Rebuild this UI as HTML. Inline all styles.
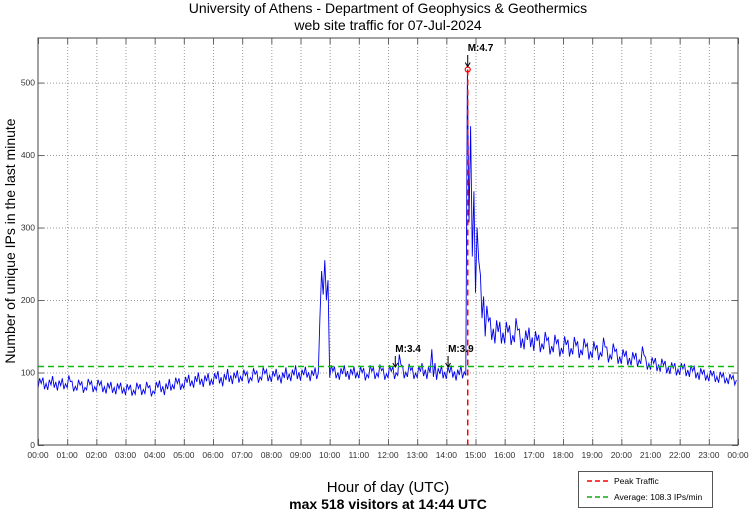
<!DOCTYPE html>
<html><head><meta charset="utf-8"><style>
body{margin:0;background:#fff;}
svg{display:block;font-family:"Liberation Sans",sans-serif;}
</style></head><body>
<svg id="chart" width="750" height="511" xmlns="http://www.w3.org/2000/svg">
<text x="388" y="13" font-size="14" text-anchor="middle">University of Athens - Department of Geophysics &amp; Geothermics</text>
<text x="388" y="30" font-size="14" text-anchor="middle">web site traffic for 07-Jul-2024</text>
<text transform="translate(15,241) rotate(-90)" font-size="14" text-anchor="middle">Number of unique IPs in the last minute</text>
<text x="388" y="492" font-size="15" text-anchor="middle">Hour of day (UTC)</text>
<text x="388" y="509" font-size="14" font-weight="bold" text-anchor="middle">max 518 visitors at 14:44 UTC</text>
<g id="grid"></g>
<g id="series"></g>
<g id="annot"></g>
<rect x="38" y="38" width="700" height="407" fill="none" stroke="#444" stroke-width="1"/>
<g>
<rect x="578.5" y="471.5" width="134" height="36" fill="#fff" stroke="#555"/>
<line x1="587" y1="481" x2="610" y2="481" stroke="#f00" stroke-width="1.5" stroke-dasharray="5,3"/>
<text x="614" y="484" font-size="8.5">Peak Traffic</text>
<line x1="587" y1="497" x2="610" y2="497" stroke="#1a1" stroke-width="1.5" stroke-dasharray="5,3"/>
<text x="614" y="500" font-size="8.5">Average: 108.3 IPs/min</text>
</g>
</svg>
<script>
// 10-minute bins (144): per-bin low and high unique IP counts
const binLows = [
78,77,76,79,75,77, 79,74,75,72,76,73, 75,73,71,72,70,71, 69,68,70,69,71,67, 71,73,69,75,77,76,
78,81,79,83,80,82, 83,85,81,87,84,86, 88,85,89,86,90,88, 87,89,85,90,88,91, 89,93,88,91,175,200,
93,92,90,94,90,92, 92,89,93,91,94,90, 93,91,96,92,94,91, 93,95,91,94,90,92, 91,93,89,92,96,260,
210,175,150,145,140,140, 140,138,142,134,132,135, 130,128,132,125,128,122, 126,122,125,120,124,118,
120,117,122,114,118,112, 112,110,110,108,112,104, 104,102,101,99,98,96, 97,95,94,92,90,89,
88,87,86,85,84,83
];
const binHighs = [
92,93,90,95,89,92, 96,88,90,87,91,88, 90,88,86,87,85,86, 84,83,86,84,87,82, 87,89,85,91,93,92,
94,97,95,100,96,99, 99,102,98,105,100,103, 104,101,106,102,107,104, 102,105,100,107,104,110,
104,108,103,107,240,255, 110,108,106,110,105,108, 108,106,110,107,111,106, 110,108,125,109,112,107,
109,113,108,132,106,110, 108,110,104,110,518,440, 300,235,192,176,172,170, 170,165,175,160,158,162,
157,152,156,148,152,146, 150,145,149,143,147,140, 143,138,148,135,140,132, 132,130,128,127,136,121,
121,120,119,116,114,113, 113,112,110,108,106,104, 103,102,101,99,98,96, 96,95,94,93,92,91
];
const yTicks = [0,100,200,300,400,500];
const xTickLabels = ["00:00","01:00","02:00","03:00","04:00","05:00","06:00","07:00","08:00","09:00","10:00","11:00","12:00","13:00","14:00","15:00","16:00","17:00","18:00","19:00","20:00","21:00","22:00","23:00","00:00"];
const averageValue = 108.3;
const peakHour = 14 + 44/60;
const peakValue = 518;
const quakeLabels = ["M:3.4","M:3.9","M:4.7"];
const quakeHours = [12.25, 14.06, 14.733];

const NS="http://www.w3.org/2000/svg";
const X0=38,X1=738,Y0=445,Y1=38,YMAX=561.5;
const xs=h=>X0+(h/24)*(X1-X0);
const ys=v=>Y0-(v/YMAX)*(Y0-Y1);
function mk(tag,attrs,parent){const e=document.createElementNS(NS,tag);for(const k in attrs)e.setAttribute(k,attrs[k]);parent.appendChild(e);return e;}
const grid=document.getElementById('grid');
xTickLabels.forEach((lab,i)=>{
  const x=xs(i)+0.5;
  if(i>0&&i<24){
    const gl=mk('line',{x1:x,y1:Y1,x2:x,y2:Y0,stroke:'#999','stroke-width':1,'stroke-dasharray':'1,2'},grid);
    
    
  }
  mk('line',{x1:x,y1:Y0,x2:x,y2:Y0-6,stroke:'#666'},grid);
  mk('line',{x1:x,y1:Y1,x2:x,y2:Y1+6,stroke:'#666'},grid);
  const t=mk('text',{x:xs(i),y:Y0+13,'font-size':8.5,'text-anchor':'middle',fill:'#333'},grid);
  t.textContent=lab;
  
  
});
yTicks.forEach(v=>{
  const y=ys(v)+0.5;
  if(v>0){
    const gl=mk('line',{x1:X0,y1:y,x2:X1,y2:y,stroke:'#999','stroke-width':1,'stroke-dasharray':'1,2'},grid);
    
    
  }
  mk('line',{x1:X0,y1:y,x2:X0+6,y2:y,stroke:'#666'},grid);
  mk('line',{x1:X1,y1:y,x2:X1-6,y2:y,stroke:'#666'},grid);
  const t=mk('text',{x:X0-3,y:ys(v)+3,'font-size':8.5,'text-anchor':'end',fill:'#333'},grid);
  t.textContent=v;
  
  
});
// series
const series=document.getElementById('series');
let pts=[];
binLows.forEach((lo,i)=>{
  const hi=binHighs[i];
  const h=i/6;
  const a=(i%2===0)?[lo,hi]:[hi,lo];
  pts.push(xs(h).toFixed(1)+','+ys(a[0]).toFixed(1));
  pts.push(xs(h+1/18).toFixed(1)+','+ys(a[1]).toFixed(1));
  pts.push(xs(h+2/18).toFixed(1)+','+ys((lo+hi)/2).toFixed(1));
});
const pl=mk('polyline',{points:pts.join(' '),fill:'none',stroke:'#0000ee','stroke-width':0.9},series);


// average & peak
const ann=document.getElementById('annot');
const av=mk('line',{x1:X0,y1:ys(averageValue),x2:X1,y2:ys(averageValue),stroke:'#11bb11','stroke-width':1.5,'stroke-dasharray':'6,4'},ann);


const pk=mk('line',{x1:xs(peakHour),y1:ys(peakValue),x2:xs(peakHour),y2:Y0,stroke:'#ff0000','stroke-width':1.5,'stroke-dasharray':'6,4'},ann);


const pm=mk('circle',{cx:xs(peakHour),cy:ys(peakValue),r:2.5,fill:'none',stroke:'#ff0000','stroke-width':1.2},ann);


quakeLabels.forEach((lab,i)=>{
  const x=xs(quakeHours[i]);
  const isPeak=i===2;
  const ty=isPeak?51:352;
  const a0=ty+4, a1=isPeak?ys(peakValue)-3:367;
  mk('line',{x1:x,y1:a0,x2:x,y2:a1,stroke:'#000'},ann);
  mk('path',{d:`M${x-2.5},${a1-4} L${x},${a1} L${x+2.5},${a1-4}`,fill:'none',stroke:'#000'},ann);
  const t=mk('text',{x:x,y:ty,'font-size':10,'font-weight':'bold'},ann);
  t.textContent=lab;
  
  
});
</script>
</body></html>
